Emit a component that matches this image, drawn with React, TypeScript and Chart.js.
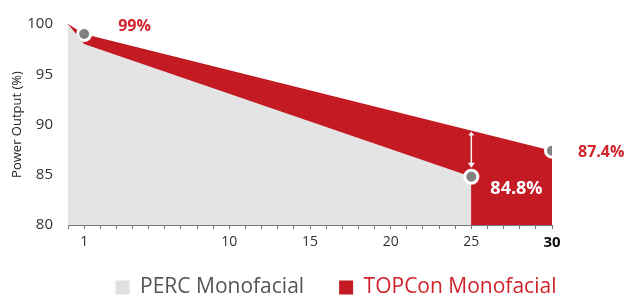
import React, { useEffect, useRef } from 'react';
import { Chart, registerables } from 'chart.js';

Chart.register(...registerables);

const seriesNames = ['PERC Monofacial', 'TOPCon Monofacial'];
const percYears = [0, 1, 25];
const percValues = [100, 98, 84.8];
const topconYears = [0, 1, 30];
const topconValues = [100, 99, 87.4];
const percMarkers = [2];
const topconMarkers = [1, 2];
const xTickLabels = [1, 10, 15, 20, 25, 30];
const yMin = 80;
const yMax = 100;
const yStep = 5;
const xMin = 0;
const xMax = 30;
const gapYear = 25;
const callouts = [
  { series: 1, index: 1, text: '99%' },
  { series: 1, index: 2, text: '87.4%' },
  { series: 0, index: 2, text: '84.8%' },
];

const RED = '#c41a24';
const LABEL_RED = '#d0232c';
const GRAY_FILL = '#e4e4e4';
const FONT = "'Open Sans', 'Noto Sans', sans-serif";

const calloutStyle = [
  { dx: 34, dy: -8, color: LABEL_RED, size: 16 },
  { dx: 26, dy: 2, color: LABEL_RED, size: 16 },
  { dx: 19, dy: 12, color: '#ffffff', size: 18 },
];

const overlayPlugin = {
  id: 'overlay',
  afterLayout(chart: any) {
    const lg = chart.legend;
    if (lg) {
      lg.left += 60;
      lg.right += 60;
    }
    // let the x tick labels extend below the compact axis box without clipping
    const xs = chart.scales.x;
    if (xs) xs.bottom += 14;
  },
  afterDatasetsDraw(chart: any) {
    const ctx = chart.ctx;
    const xs = chart.scales.x;
    const ys = chart.scales.y;
    // arrow between the two lines at gapYear
    const i1 = 1;
    const i2 = 2;
    const t = (gapYear - topconYears[i1]) / (topconYears[i2] - topconYears[i1]);
    const topVal = topconValues[i1] + t * (topconValues[i2] - topconValues[i1]);
    const percVal = percValues[percYears.indexOf(gapYear)];
    const ax = xs.getPixelForValue(gapYear);
    const ay1 = ys.getPixelForValue(topVal) + 1;
    const ay2 = ys.getPixelForValue(percVal) - 9;
    ctx.save();
    ctx.strokeStyle = '#f4f4f4';
    ctx.fillStyle = '#f4f4f4';
    ctx.lineWidth = 1.5;
    ctx.beginPath();
    ctx.moveTo(ax, ay1 + 2);
    ctx.lineTo(ax, ay2 - 4);
    ctx.stroke();
    ctx.beginPath();
    ctx.moveTo(ax - 3.5, ay2 - 5);
    ctx.lineTo(ax + 3.5, ay2 - 5);
    ctx.lineTo(ax, ay2);
    ctx.closePath();
    ctx.fill();
    ctx.beginPath();
    ctx.moveTo(ax - 3, ay1 + 4);
    ctx.lineTo(ax + 3, ay1 + 4);
    ctx.lineTo(ax, ay1);
    ctx.closePath();
    ctx.fill();
    ctx.restore();

    // callout labels
    ctx.save();
    ctx.textAlign = 'left';
    ctx.textBaseline = 'middle';
    callouts.forEach((c, k) => {
      const years = c.series === 0 ? percYears : topconYears;
      const vals = c.series === 0 ? percValues : topconValues;
      const st = calloutStyle[k];
      const x = xs.getPixelForValue(years[c.index]) + st.dx;
      const y = ys.getPixelForValue(vals[c.index]) + st.dy;
      ctx.font = `bold ${st.size}px ${FONT}`;
      ctx.fillStyle = st.color;
      ctx.fillText(c.text, x, y);
    });
    ctx.restore();
  },
};

function markerRadius(markers: number[]) {
  return (ctx: any) => (markers.includes(ctx.dataIndex) ? 6.5 : 0);
}

export default function App() {
  const ref = useRef<HTMLCanvasElement | null>(null);
  useEffect(() => {
    document.body.style.margin = '0';
    if (!ref.current) return;
    const chart = new Chart(ref.current, {
      type: 'line',
      data: {
        datasets: [
          {
            label: seriesNames[0],
            data: percYears.map((x, i) => ({ x, y: percValues[i] })),
            borderColor: 'rgba(0,0,0,0)',
            borderWidth: 0,
            backgroundColor: GRAY_FILL,
            fill: 'start',
            tension: 0,
            pointRadius: markerRadius(percMarkers),
            pointHoverRadius: markerRadius(percMarkers),
            pointBackgroundColor: '#808282',
            pointBorderColor: '#ffffff',
            pointBorderWidth: 3,
          },
          {
            label: seriesNames[1],
            data: topconYears.map((x, i) => ({ x, y: topconValues[i] })),
            borderColor: 'rgba(0,0,0,0)',
            borderWidth: 0,
            backgroundColor: RED,
            fill: 'start',
            tension: 0,
            pointRadius: markerRadius(topconMarkers),
            pointHoverRadius: markerRadius(topconMarkers),
            pointBackgroundColor: '#808282',
            pointBorderColor: '#ffffff',
            pointBorderWidth: 3,
          },
        ],
      },
      options: {
        animation: false,
        responsive: true,
        maintainAspectRatio: false,
        layout: { padding: { top: 18, right: 76, left: 0, bottom: 0 } },
        scales: {
          x: {
            type: 'linear',
            min: xMin,
            max: xMax,
            afterFit: (s: any) => {
              s.height = 17;
            },
            ticks: {
              stepSize: 1,
              autoSkip: false,
              maxRotation: 0,
              padding: 5,
              callback: (v: any) => (xTickLabels.includes(Number(v)) ? String(v) : ''),
              color: (c: any) => (c.tick && c.tick.value === xMax ? '#111' : '#333'),
              font: (c: any) =>
                c.tick && c.tick.value === xMax
                  ? { family: FONT, size: 15, weight: 'bold' }
                  : { family: FONT, size: 14 },
            },
            grid: {
              drawOnChartArea: false,
              drawTicks: true,
              tickLength: 4,
              color: '#777',
            },
            border: { display: true, color: '#777', width: 1 },
          },
          y: {
            min: yMin,
            max: yMax,
            afterFit: (s: any) => {
              s.width = 68;
            },
            ticks: {
              stepSize: yStep,
              padding: 15,
              color: '#333',
              font: { family: FONT, size: 15 },
            },
            grid: { display: false, drawTicks: false },
            border: { display: true, color: '#888', width: 1 },
            title: {
              display: true,
              text: 'Power Output (%)',
              color: '#222',
              font: { family: FONT, size: 13 },
              padding: { top: 9, bottom: 0 },
            },
          },
        },
        plugins: {
          tooltip: { enabled: false },
          legend: {
            position: 'bottom',
            maxHeight: 54,
            labels: {
              boxWidth: 14,
              boxHeight: 14,
              padding: 35,
              font: { family: FONT, size: 21 },
              generateLabels: (ch: any) =>
                ch.data.datasets.map((d: any, i: number) => ({
                  text: d.label,
                  fillStyle: i === 0 ? '#e0e0e0' : RED,
                  strokeStyle: 'rgba(0,0,0,0)',
                  lineWidth: 0,
                  fontColor: i === 0 ? '#555555' : LABEL_RED,
                  hidden: false,
                  datasetIndex: i,
                })),
            },
          },
        },
      } as any,
      plugins: [overlayPlugin],
    });
    return () => chart.destroy();
  }, []);
  return (
    <div style={{ width: 628, height: 296, position: 'relative', background: '#fff' }}>
      <canvas ref={ref} />
    </div>
  );
}
